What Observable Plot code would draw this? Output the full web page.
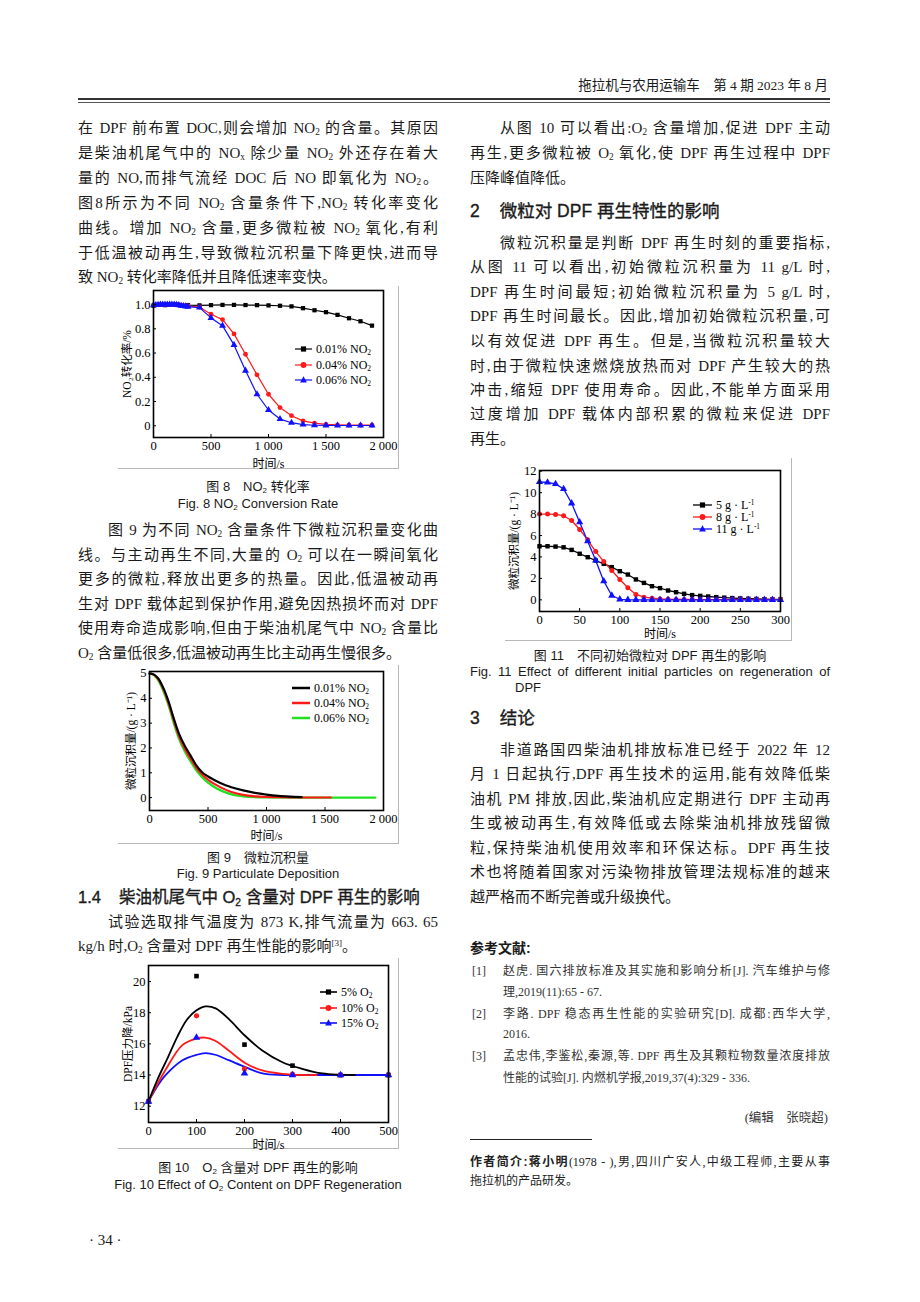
<!DOCTYPE html>
<html lang="zh-CN">
<head>
<meta charset="utf-8">
<script src="https://cdn.jsdelivr.net/npm/d3@7"></script>
<script src="https://cdn.jsdelivr.net/npm/@observablehq/plot@0.6"></script>
<style>
html,body{margin:0;padding:0;background:#fff;}
#page{position:relative;width:920px;height:1302px;overflow:hidden;color:#1a1a1a;font-family:"Liberation Serif","Noto Sans CJK SC",serif;}
.ln{position:absolute;}
.sans{font-family:"Liberation Sans","Noto Sans CJK SC",sans-serif;}
sub{font-size:0.62em;vertical-align:-0.25em;line-height:0;}
sup{font-size:0.6em;vertical-align:0.55em;line-height:0;}
.fig{position:absolute;border-right:1px solid #b8b8b8;border-bottom:1px solid #b8b8b8;}
.fig svg{display:block;overflow:visible;}
.leg{position:absolute;font-family:"Liberation Serif","Noto Sans CJK SC",serif;font-size:12px;display:flex;align-items:center;white-space:nowrap;line-height:14px;color:#000;}
.rule{position:absolute;background:#333;}
</style>
</head>
<body>
<div id="page"></div>
<script>
// ---------------- chart data ----------------
// Fig. 8  NO2 conversion rate
const fig8TimeBlack = [0,100,200,300,400,500,600,700,800,900,1000,1100,1200,1300,1400,1500,1600,1700,1800,1900];
const fig8No2Low = [0.99,0.995,1.0,0.995,0.993,0.995,0.997,0.997,0.996,0.995,0.993,0.99,0.985,0.97,0.953,0.937,0.915,0.887,0.862,0.826];
const fig8TimeDense = [0,20,40,60,80,100,120,140,160,180,200,220,240,260,280,300,400,500,600,700,800,900,1000,1100,1200,1300,1400,1500,1600,1700,1800,1900];
const fig8No2Mid = [0.995,0.997,0.998,1.0,1.0,1.0,1.0,1.0,1.0,1.0,1.0,0.998,0.995,0.992,0.99,0.988,0.98,0.92,0.876,0.758,0.59,0.42,0.26,0.15,0.083,0.04,0.022,0.012,0.008,0.006,0.005,0.005];
const fig8No2High = [0.995,0.997,0.999,1.0,1.0,1.0,1.0,1.0,1.0,1.0,0.998,0.995,0.99,0.988,0.985,0.983,0.975,0.89,0.826,0.667,0.455,0.26,0.13,0.055,0.025,0.01,0.004,0.003,0.002,0.002,0.002,0.002];
const fig8Labels = ["0.01% NO<sub>2</sub>","0.04% NO<sub>2</sub>","0.06% NO<sub>2</sub>"];

// Fig. 9  particulate deposition
const fig9TimeLow = [0,25,50,75,100,125,150,175,200,250,300,350,400,450,500,550,600,650,700,800,900,1000,1100,1200,1300];
const fig9DepLow = [5.0,4.98,4.92,4.8,4.6,4.35,4.05,3.7,3.3,2.6,2.1,1.7,1.3,1.02,0.85,0.72,0.6,0.5,0.42,0.29,0.19,0.12,0.07,0.04,0.02];
const fig9TimeMid = [0,25,50,75,100,125,150,175,200,250,300,350,400,450,500,550,600,650,700,800,900,1000,1100,1200,1300,1400,1550];
const fig9DepMid = [5.0,4.98,4.9,4.77,4.56,4.3,3.98,3.62,3.22,2.5,1.98,1.58,1.2,0.93,0.72,0.56,0.43,0.32,0.23,0.11,0.05,0.025,0.015,0.01,0.005,0.003,0.002];
const fig9TimeHigh = [0,25,50,75,100,125,150,175,200,250,300,350,400,450,500,550,600,650,700,800,900,1000,1200,1500,1930];
const fig9DepHigh = [5.0,4.97,4.88,4.72,4.5,4.22,3.9,3.53,3.12,2.4,1.88,1.47,1.1,0.82,0.6,0.44,0.31,0.21,0.13,0.05,0.015,0.005,0.0,0.0,0.0];
const fig9Labels = ["0.01% NO<sub>2</sub>","0.04% NO<sub>2</sub>","0.06% NO<sub>2</sub>"];

// Fig. 10  DPF pressure drop
const fig10PointTime = [0,100,200,300,400,500];
const fig10Pts5 = [12.3,20.35,15.95,14.6,14.0,14.0];
const fig10Pts10 = [12.3,17.8,14.4,14.05,14.0,14.0];
const fig10Pts15 = [12.3,16.4,14.1,14.0,14.0,14.0];
const fig10CurveTime5 = [0,20,40,60,80,100,118,140,167,200,237,279,320,362,400,430];
const fig10Curve5 = [12.3,13.8,15.1,16.45,17.55,18.15,18.4,18.28,17.6,16.55,15.57,14.82,14.4,14.1,14.02,14.0];
const fig10CurveTime10 = [0,20,35,70,101,118,139,167,202,237,279,320,350];
const fig10Curve10 = [12.3,13.5,14.3,15.9,16.35,16.4,16.2,15.57,14.76,14.29,14.07,14.0,14.0];
const fig10CurveTime15 = [0,20,35,70,101,118,139,167,202,237,279,320,400,500];
const fig10Curve15 = [12.3,13.35,13.97,14.93,15.3,15.4,15.3,14.95,14.5,14.1,14.0,14.0,14.0,14.0];
const fig10Labels = ["5% O<sub>2</sub>","10% O<sub>2</sub>","15% O<sub>2</sub>"];

// Fig. 11  initial particles
const fig11Time = [0,10,20,30,40,50,60,70,80,90,100,110,120,130,140,150,160,170,180,190,200,210,220,230,240,250,260,270,280,290,300];
const fig11Dep5 = [5.0,5.0,4.97,4.9,4.66,4.3,3.98,3.67,3.36,3.05,2.67,2.36,1.9,1.58,1.27,1.09,0.87,0.71,0.56,0.44,0.37,0.31,0.25,0.2,0.16,0.13,0.1,0.08,0.06,0.05,0.04];
const fig11Dep8 = [8.0,8.0,7.97,7.85,7.4,6.56,5.6,4.5,3.57,2.74,1.9,1.12,0.5,0.25,0.15,0.08,0.05,0.04,0.03,0.02,0.02,0.02,0.02,0.02,0.02,0.02,0.02,0.02,0.02,0.02,0.02];
const fig11Dep11 = [11.0,10.95,10.82,10.35,9.01,7.24,5.47,3.67,1.74,0.4,0.05,0.0,0.0,0.0,0.0,0.0,0.0,0.0,0.0,0.0,0.0,0.0,0.0,0.0,0.0,0.0,0.0,0.0,0.0,0.0,0.0];
const fig11Labels = ["5 g · L<sup>-1</sup>","8 g · L<sup>-1</sup>","11 g · L<sup>-1</sup>"];

const BLACK = "#000", RED = "#ff1a1a", BLUE = "#1010ff", GREEN = "#22e022";

// ---------------- helpers ----------------
const page = document.getElementById("page");
function zip(ts, vs, s) { return ts.map((t, i) => ({t, v: vs[i], s})); }

function line(x, y, w, html, o = {}) {
  const fs = o.fs || 15;
  const d = document.createElement("div");
  d.className = "ln" + (o.sans ? " sans" : "");
  const lh = Math.round(fs * 1.5);
  const align = o.align || "justify";
  const last = o.last ? (o.align || "left") : (o.align || "justify");
  d.style.cssText = `left:${x}px;top:${y - lh / 2}px;width:${w}px;font-size:${fs}px;line-height:${lh}px;` +
    `text-align:${align};text-align-last:${last};` + (o.indent ? `text-indent:${o.indent}px;` : "") +
    (o.bold ? "font-weight:bold;" : "") + (o.css || "");
  d.innerHTML = html;
  page.appendChild(d);
}
function para(x, ys, w, lines, o = {}) {
  lines.forEach((h, i) => line(x, ys[i], w, h, Object.assign({}, o, {
    indent: i === 0 ? o.firstIndent : 0, last: i === lines.length - 1 && o.lastLeft
  })));
}
function rule(x, y, w, h, c) {
  const d = document.createElement("div");
  d.className = "rule";
  d.style.cssText = `left:${x}px;top:${y}px;width:${w}px;height:${h}px;background:${c || "#333"};`;
  page.appendChild(d);
}
function legend(x, y0, dy, items, lineW, sw) {
  items.forEach((it, i) => {
    const d = document.createElement("div");
    d.className = "leg";
    d.style.left = x + "px";
    d.style.top = (y0 + i * dy - 7) + "px";
    const c = lineW / 2;
    const sym = it.sym === "square" ? `<rect x="${c - 2.6}" y="2.4" width="5.2" height="5.2" fill="${it.c}"/>`
      : it.sym === "circle" ? `<circle cx="${c}" cy="5" r="2.9" fill="${it.c}"/>`
      : it.sym === "triangle" ? `<path d="M${c},1.2L${c + 3.4},7.4L${c - 3.4},7.4Z" fill="${it.c}"/>` : "";
    d.innerHTML = `<svg width="${lineW}" height="10" style="margin-right:4px;overflow:visible"><line x1="0" x2="${lineW}" y1="5" y2="5" stroke="${it.c}" stroke-width="${sw}"/>${sym}</svg><span>${it.label}</span>`;
    page.appendChild(d);
  });
}
const fmtK = d => d >= 1000 ? d3.format(",")(d).replace(",", " ") : String(d);

function chart(o) {
  const wrap = document.createElement("div");
  wrap.className = "fig";
  wrap.style.cssText = `left:${o.left}px;top:${o.top}px;width:${o.width}px;height:${o.height}px;`;
  const p = Plot.plot({
    width: o.width, height: o.height,
    marginTop: o.m[0], marginRight: o.m[1], marginBottom: o.m[2], marginLeft: o.m[3],
    style: {fontFamily: "'Liberation Serif','Noto Sans CJK SC',serif", fontSize: "12.5px", color: "#000", background: "transparent", overflow: "visible"},
    x: {domain: o.xd},
    y: {domain: o.yd},
    marks: [
      ...o.marks,
      Plot.axisX({ticks: o.xt, tickFormat: o.xf, tickSize: -3, tickPadding: 7, label: null, fontSize: 12.5}),
      Plot.axisY({ticks: o.yt, tickFormat: o.yf, tickSize: -3, tickPadding: 6, label: null, fontSize: 12.5}),
      Plot.axisX({ticks: [], tickSize: 0, label: o.xl, labelAnchor: "center", labelOffset: o.xlo, labelArrow: "none", fontSize: 12}),
      Plot.axisY({ticks: [], tickSize: 0, label: o.yl, labelAnchor: "center", labelOffset: o.ylo, labelArrow: "none", fontSize: 11.5}),
      Plot.frame({stroke: "#000", strokeWidth: 1.6})
    ]
  });
  wrap.appendChild(p);
  page.appendChild(wrap);
}

// ---------------- header ----------------
line(500, 86, 328, "拖拉机与农用运输车　第 4 期 2023 年 8 月", {fs: 13.5, align: "right", last: true});
rule(78, 98, 752, 2, "#333");
rule(78, 102, 752, 1, "#555");

// ---------------- left column ----------------
para(78, [128,153,178,203,228,253,277], 360, [
  "在 DPF 前布置 DOC,则会增加 NO<sub>2</sub> 的含量。其原因",
  "是柴油机尾气中的 NO<sub>x</sub> 除少量 NO<sub>2</sub> 外还存在着大",
  "量的 NO,而排气流经 DOC 后 NO 即氧化为 NO<sub>2</sub>。",
  "图8所示为不同 NO<sub>2</sub> 含量条件下,NO<sub>2</sub> 转化率变化",
  "曲线。增加 NO<sub>2</sub> 含量,更多微粒被 NO<sub>2</sub> 氧化,有利",
  "于低温被动再生,导致微粒沉积量下降更快,进而导",
  "致 NO<sub>2</sub> 转化率降低并且降低速率变快。"
], {lastLeft: true});

line(78, 487, 360, "图 8　NO<sub>2</sub> 转化率", {fs: 13, align: "center", last: true, sans: true});
line(78, 504, 360, "Fig. 8 NO<sub>2</sub> Conversion Rate", {fs: 13, align: "center", last: true, sans: true});

para(78, [530,555,579,604,628,653], 360, [
  "图 9 为不同 NO<sub>2</sub> 含量条件下微粒沉积量变化曲",
  "线。与主动再生不同,大量的 O<sub>2</sub> 可以在一瞬间氧化",
  "更多的微粒,释放出更多的热量。因此,低温被动再",
  "生对 DPF 载体起到保护作用,避免因热损坏而对 DPF",
  "使用寿命造成影响,但由于柴油机尾气中 NO<sub>2</sub> 含量比",
  "O<sub>2</sub> 含量低很多,低温被动再生比主动再生慢很多。"
], {firstIndent: 30, lastLeft: true});

line(78, 858, 360, "图 9　微粒沉积量", {fs: 13, align: "center", last: true, sans: true});
line(78, 874, 360, "Fig. 9 Particulate Deposition", {fs: 13, align: "center", last: true, sans: true});
line(78, 897, 360, "1.4<span style='display:inline-block;width:18px'></span>柴油机尾气中 O<sub>2</sub> 含量对 DPF 再生的影响", {fs: 16.5, align: "left", last: true, sans: true, css: "-webkit-text-stroke:0.35px #1a1a1a;"});
para(78, [922,946], 360, [
  "试验选取排气温度为 873 K,排气流量为 663. 65",
  "kg/h 时,O<sub>2</sub> 含量对 DPF 再生性能的影响<sup>[3]</sup>。"
], {firstIndent: 30, lastLeft: true});

line(78, 1168, 360, "图 10　O<sub>2</sub> 含量对 DPF 再生的影响", {fs: 13, align: "center", last: true, sans: true});
line(78, 1185, 360, "Fig. 10 Effect of O<sub>2</sub> Content on DPF Regeneration", {fs: 13, align: "center", last: true, sans: true});
line(89, 1240, 60, "· 34 ·", {fs: 15, align: "left", last: true});

// ---------------- right column ----------------
para(470, [128,153,178], 360, [
  "从图 10 可以看出:O<sub>2</sub> 含量增加,促进 DPF 主动",
  "再生,更多微粒被 O<sub>2</sub> 氧化,使 DPF 再生过程中 DPF",
  "压降峰值降低。"
], {firstIndent: 30, lastLeft: true});
line(470, 211, 360, "2<span style='display:inline-block;width:20px'></span>微粒对 DPF 再生特性的影响", {fs: 17.5, align: "left", last: true, sans: true, css: "-webkit-text-stroke:0.35px #1a1a1a;"});
para(470, [243,267,292,316,341,366,390,414,439], 360, [
  "微粒沉积量是判断 DPF 再生时刻的重要指标,",
  "从图 11 可以看出,初始微粒沉积量为 11 g/L 时,",
  "DPF 再生时间最短;初始微粒沉积量为 5 g/L 时,",
  "DPF 再生时间最长。因此,增加初始微粒沉积量,可",
  "以有效促进 DPF 再生。但是,当微粒沉积量较大",
  "时,由于微粒快速燃烧放热而对 DPF 产生较大的热",
  "冲击,缩短 DPF 使用寿命。因此,不能单方面采用",
  "过度增加 DPF 载体内部积累的微粒来促进 DPF",
  "再生。"
], {firstIndent: 30, lastLeft: true});

line(470, 656, 360, "图 11　不同初始微粒对 DPF 再生的影响", {fs: 13, align: "center", last: true, sans: true});
line(470, 672, 360, "Fig. 11 Effect of different initial particles on regeneration of", {fs: 13, sans: true});
line(515, 688, 200, "DPF", {fs: 13, align: "left", last: true, sans: true});
line(470, 718, 360, "3<span style='display:inline-block;width:20px'></span>结论", {fs: 17.5, align: "left", last: true, sans: true, css: "-webkit-text-stroke:0.35px #1a1a1a;"});
para(470, [750,774,799,823,848,872,897], 360, [
  "非道路国四柴油机排放标准已经于 2022 年 12",
  "月 1 日起执行,DPF 再生技术的运用,能有效降低柴",
  "油机 PM 排放,因此,柴油机应定期进行 DPF 主动再",
  "生或被动再生,有效降低或去除柴油机排放残留微",
  "粒,保持柴油机使用效率和环保达标。DPF 再生技",
  "术也将随着国家对污染物排放管理法规标准的越来",
  "越严格而不断完善或升级换代。"
], {firstIndent: 30, lastLeft: true});

line(470, 948, 360, "参考文献:", {fs: 14, align: "left", last: true, sans: true, bold: true});
const RF = {fs: 12, css: "color:#333;"};
line(472, 971, 30, "[1]", Object.assign({align: "left", last: true}, RF));
line(503, 971, 327, "赵虎. 国六排放标准及其实施和影响分析[J]. 汽车维护与修", RF);
line(503, 992, 327, "理,2019(11):65 - 67.", Object.assign({align: "left", last: true}, RF));
line(472, 1014, 30, "[2]", Object.assign({align: "left", last: true}, RF));
line(503, 1014, 327, "李路. DPF 稳态再生性能的实验研究[D]. 成都:西华大学,", RF);
line(503, 1034, 327, "2016.", Object.assign({align: "left", last: true}, RF));
line(472, 1056, 30, "[3]", Object.assign({align: "left", last: true}, RF));
line(503, 1056, 327, "孟忠伟,李鉴松,秦源,等. DPF 再生及其颗粒物数量浓度排放", RF);
line(503, 1078, 327, "性能的试验[J]. 内燃机学报,2019,37(4):329 - 336.", Object.assign({align: "left", last: true}, RF));
line(630, 1118, 198, "(编辑　张晓超)", {fs: 12.5, align: "right", last: true, css: "color:#333;"});
rule(470, 1139, 122, 1, "#222");
line(470, 1162, 360, "<b class='sans'>作者简介:</b><b>蒋小明</b>(1978 - ),男,四川广安人,中级工程师,主要从事", {fs: 12, css: "color:#222;"});
line(470, 1181, 360, "拖拉机的产品研发。", {fs: 12, align: "left", last: true, css: "color:#222;"});

// ---------------- Fig. 8 ----------------
chart({
  left: 118, top: 286, width: 280, height: 182, m: [4, 15, 31, 35],
  xd: [0, 2000], yd: [-0.097, 1.116],
  xt: [0, 500, 1000, 1500, 2000], xf: fmtK,
  yt: [0, 0.2, 0.4, 0.6, 0.8, 1.0], yf: d => d === 0 ? "0" : d.toFixed(1),
  xl: "时间/s", xlo: 30, yl: "NO₂转化率/%", ylo: 31,
  marks: [
    Plot.line(zip(fig8TimeBlack, fig8No2Low), {x: "t", y: "v", stroke: BLACK, strokeWidth: 1.2}),
    Plot.line(zip(fig8TimeDense, fig8No2Mid), {x: "t", y: "v", stroke: RED, strokeWidth: 1.2}),
    Plot.line(zip(fig8TimeDense, fig8No2High), {x: "t", y: "v", stroke: BLUE, strokeWidth: 1.2}),
    Plot.dot(zip(fig8TimeBlack, fig8No2Low), {x: "t", y: "v", symbol: "square", fill: BLACK, r: 2.4}),
    Plot.dot(zip(fig8TimeDense, fig8No2Mid), {x: "t", y: "v", symbol: "circle", fill: RED, r: 2.4}),
    Plot.dot(zip(fig8TimeDense, fig8No2High), {x: "t", y: "v", symbol: "triangle", fill: BLUE, r: 2.6})
  ]
});
legend(295, 349, 15.5, [
  {label: fig8Labels[0], c: BLACK, sym: "square"},
  {label: fig8Labels[1], c: RED, sym: "circle"},
  {label: fig8Labels[2], c: BLUE, sym: "triangle"}
], 17, 1.2);

// ---------------- Fig. 9 ----------------
chart({
  left: 118, top: 665, width: 280, height: 178, m: [6, 15, 33, 31],
  xd: [0, 2000], yd: [-0.52, 5.08],
  xt: [0, 500, 1000, 1500, 2000], xf: fmtK,
  yt: [0, 1, 2, 3, 4, 5], yf: d => String(d),
  xl: "时间/s", xlo: 29, yl: "微粒沉积量/(g · L⁻¹)", ylo: 23,
  marks: [
    Plot.line(zip(fig9TimeHigh, fig9DepHigh), {x: "t", y: "v", stroke: GREEN, strokeWidth: 2.3, curve: "monotone-x"}),
    Plot.line(zip(fig9TimeMid, fig9DepMid), {x: "t", y: "v", stroke: RED, strokeWidth: 2.1, curve: "monotone-x"}),
    Plot.line(zip(fig9TimeLow, fig9DepLow), {x: "t", y: "v", stroke: BLACK, strokeWidth: 2.1, curve: "monotone-x"})
  ]
});
legend(292, 688, 15, [
  {label: fig9Labels[0], c: BLACK},
  {label: fig9Labels[1], c: RED},
  {label: fig9Labels[2], c: GREEN}
], 18, 2.5);

// ---------------- Fig. 10 ----------------
chart({
  left: 118, top: 958, width: 280, height: 190, m: [7, 10, 26, 30],
  xd: [0, 500], yd: [10.95, 21.03],
  xt: [0, 100, 200, 300, 400, 500], xf: d => String(d),
  yt: [12, 14, 16, 18, 20], yf: d => String(d),
  xl: "时间/s", xlo: 26, yl: "DPF压力降/kPa", ylo: 25,
  marks: [
    Plot.line(zip(fig10CurveTime15, fig10Curve15), {x: "t", y: "v", stroke: BLUE, strokeWidth: 1.8, curve: "catmull-rom"}),
    Plot.line(zip(fig10CurveTime10, fig10Curve10), {x: "t", y: "v", stroke: RED, strokeWidth: 1.8, curve: "catmull-rom"}),
    Plot.line(zip(fig10CurveTime5, fig10Curve5), {x: "t", y: "v", stroke: BLACK, strokeWidth: 1.8, curve: "catmull-rom"}),
    Plot.dot(zip(fig10PointTime, fig10Pts5), {x: "t", y: "v", symbol: "square", fill: BLACK, r: 2.6}),
    Plot.dot(zip(fig10PointTime, fig10Pts10), {x: "t", y: "v", symbol: "circle", fill: RED, r: 2.6}),
    Plot.dot(zip(fig10PointTime, fig10Pts15), {x: "t", y: "v", symbol: "triangle", fill: BLUE, r: 2.8})
  ]
});
legend(320, 992, 15.5, [
  {label: fig10Labels[0], c: BLACK, sym: "square"},
  {label: fig10Labels[1], c: RED, sym: "circle"},
  {label: fig10Labels[2], c: BLUE, sym: "triangle"}
], 17, 1.6);

// ---------------- Fig. 11 ----------------
chart({
  left: 505, top: 458, width: 286, height: 182, m: [12, 11, 29, 34],
  xd: [0, 300], yd: [-1.09, 12.07],
  xt: [0, 50, 100, 150, 200, 250, 300], xf: d => String(d),
  yt: [0, 2, 4, 6, 8, 10, 12], yf: d => String(d),
  xl: "时间/s", xlo: 26, yl: "微粒沉积量/(g · L⁻¹)", ylo: 30,
  marks: [
    Plot.line(zip(fig11Time, fig11Dep5), {x: "t", y: "v", stroke: BLACK, strokeWidth: 1.3}),
    Plot.line(zip(fig11Time, fig11Dep8), {x: "t", y: "v", stroke: RED, strokeWidth: 1.3}),
    Plot.line(zip(fig11Time, fig11Dep11), {x: "t", y: "v", stroke: BLUE, strokeWidth: 1.3}),
    Plot.dot(zip(fig11Time, fig11Dep5), {x: "t", y: "v", symbol: "square", fill: BLACK, r: 2.5}),
    Plot.dot(zip(fig11Time, fig11Dep8), {x: "t", y: "v", symbol: "circle", fill: RED, r: 2.5}),
    Plot.dot(zip(fig11Time, fig11Dep11), {x: "t", y: "v", symbol: "triangle", fill: BLUE, r: 2.7})
  ]
});
legend(693, 505, 12, [
  {label: fig11Labels[0], c: BLACK, sym: "square"},
  {label: fig11Labels[1], c: RED, sym: "circle"},
  {label: fig11Labels[2], c: BLUE, sym: "triangle"}
], 19, 1.3);
</script>
</body>
</html>
